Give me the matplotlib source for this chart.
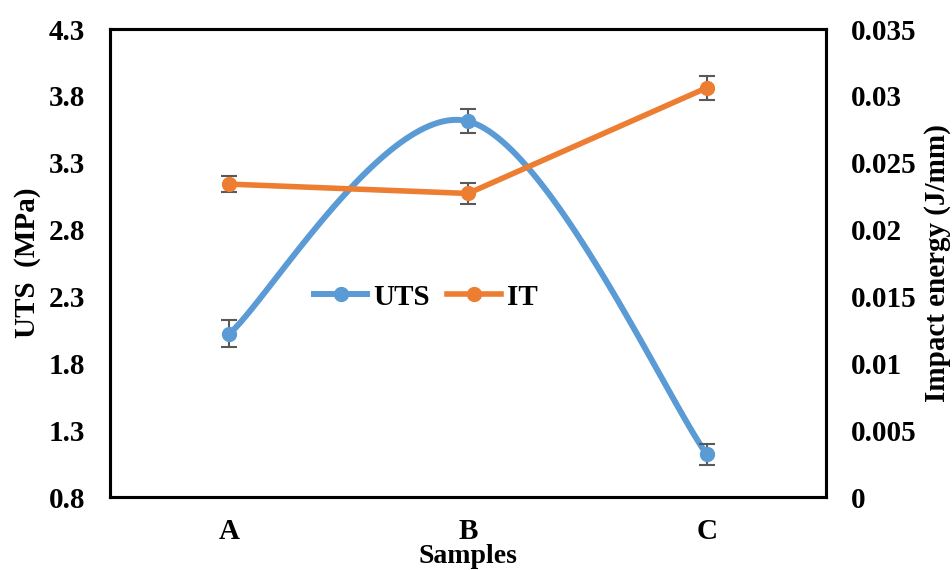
import numpy as np
import matplotlib
matplotlib.use("Agg")
import matplotlib.pyplot as plt
from matplotlib.lines import Line2D

categories = ["A", "B", "C"]
uts = [2.02, 3.61, 1.12]
uts_err = [0.10, 0.09, 0.08]
it = [0.0234, 0.0227, 0.0306]
it_err = [0.0006, 0.0008, 0.0009]
left_ticks = [0.8, 1.3, 1.8, 2.3, 2.8, 3.3, 3.8, 4.3]
right_ticks = [0, 0.005, 0.01, 0.015, 0.02, 0.025, 0.03, 0.035]
right_labels = ["0", "0.005", "0.01", "0.015", "0.02", "0.025", "0.03", "0.035"]

BLUE = "#5B9BD5"
ORANGE = "#ED7D31"
GRAY = "#595959"

plt.rcParams["font.family"] = ["Liberation Serif", "DejaVu Serif"]
plt.rcParams["font.weight"] = "bold"

fig = plt.figure(figsize=(9.52, 5.70), dpi=100)
ax = fig.add_axes([110/952, 1-497/570, 716/952, 468/570])
ax2 = ax.twinx()

x = np.arange(len(categories))
ax.set_xlim(-0.5, 2.5)
ax.set_ylim(0.8, 4.3)
ax2.set_ylim(0, 0.035)

# smoothed curve (Excel-like) computed in display space
def smooth(axis, xs, ys, n=60):
    pts = axis.transData.transform(np.column_stack([xs, ys]))
    P = np.vstack([pts[0], pts, pts[-1]])
    out = []
    for i in range(1, len(P) - 2):
        p0, p1, p2, p3 = P[i-1], P[i], P[i+1], P[i+2]
        c1 = p1 + (p2 - p0) / 6.0
        c2 = p2 - (p3 - p1) / 6.0
        t = np.linspace(0, 1, n)[:, None]
        seg = ((1-t)**3)*p1 + 3*((1-t)**2)*t*c1 + 3*(1-t)*t**2*c2 + t**3*p2
        out.append(seg if i == 1 else seg[1:])
    out = np.vstack(out)
    return axis.transData.inverted().transform(out)

curve = smooth(ax, x, uts)
ax.plot(curve[:, 0], curve[:, 1], color=BLUE, lw=4.3, solid_capstyle="round", zorder=2)
ax.errorbar(x, uts, yerr=uts_err, fmt="none", ecolor=GRAY, elinewidth=1.5,
            capsize=6, capthick=1.5, zorder=3)
ax.plot(x, uts, "o", color=BLUE, ms=10, zorder=4)

ax2.plot(x, it, color=ORANGE, lw=4.0, solid_capstyle="round", zorder=2)
ax2.errorbar(x, it, yerr=it_err, fmt="none", ecolor=GRAY, elinewidth=1.5,
             capsize=6, capthick=1.5, zorder=3)
ax2.plot(x, it, "o", color=ORANGE, ms=10, zorder=4)

ax.set_xticks(x)
ax.set_xticklabels(categories)
ax.set_yticks(left_ticks)
ax.set_yticklabels([f"{v:.1f}" for v in left_ticks])
ax2.set_yticks(right_ticks)
ax2.set_yticklabels(right_labels)

for a in (ax, ax2):
    a.tick_params(axis="both", length=0, labelsize=21, pad=18)
    for s in a.spines.values():
        s.set_linewidth(2.2)
        s.set_color("black")
ax.tick_params(axis="x", pad=15)
for lab in ax.get_xticklabels() + ax.get_yticklabels() + ax2.get_yticklabels():
    lab.set_fontweight("bold")

ax.set_xlabel("Samples", fontsize=20, fontweight="bold")
ax.xaxis.set_label_coords(0.5, -0.100)
ax.set_ylabel("UTS  (MPa)", fontsize=21, fontweight="bold")
ax.yaxis.set_label_coords(-0.097, 0.5)
ax2.set_ylabel("Impact energy (J/mm)", fontsize=21, fontweight="bold", rotation=90)
ax2.yaxis.set_label_coords(1.137, 0.5)

handles = [Line2D([], [], color=BLUE, lw=4.3, marker="o", ms=10),
           Line2D([], [], color=ORANGE, lw=4.0, marker="o", ms=10)]
ax2.legend(handles, ["UTS", "IT"], loc="center", bbox_to_anchor=(0.441, 0.427),
           ncol=2, frameon=False, prop={"size": 21, "weight": "bold"},
           handlelength=1.85, columnspacing=0.6, handletextpad=0.2)

fig.savefig("out.png", dpi=100)
